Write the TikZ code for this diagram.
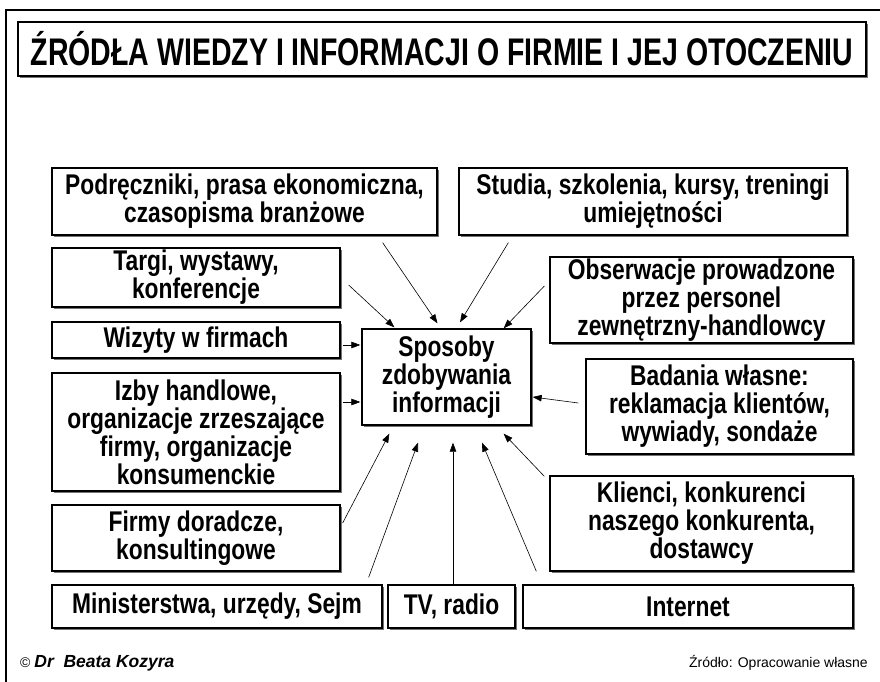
\documentclass[tikz,border=0pt]{standalone}
\usepackage{fontspec}
\setmainfont{Liberation Sans}[FakeStretch=0.8]
\newfontfamily\titlefont{Liberation Sans}[FakeStretch=0.74]
\newfontfamily\footfont{Liberation Sans}
\usetikzlibrary{arrows.meta,shadows}
\tikzset{
  box/.style={draw, line width=1.3pt, fill=white, align=center, inner sep=0pt,
              font=\bfseries\fontsize{28.5}{28}\selectfont,
              drop shadow={shadow xshift=2.2pt, shadow yshift=-2.2pt, fill=black!55, opacity=1}},
  wh/.style 2 args={minimum width=#1pt, minimum height=#2pt},
  feed/.style={-{Triangle[length=9pt,width=6.5pt]}, line width=0.6pt},
  foot/.style={font=\footfont\fontsize{14}{16}\selectfont, inner sep=0pt}
}

\begin{document}
\begin{tikzpicture}[x=1pt,y=-1pt]
\useasboundingbox (0,0) rectangle (880,682);
\draw[line width=1.3pt] (6,682) -- (6,10) -- (880,10);
\node[box, wh={848}{54}, font=\titlefont\bfseries\fontsize{38.5}{40}\selectfont] (title) at (442,49) {ŹRÓDŁA WIEDZY I INFORMACJI O FIRMIE I JEJ OTOCZENIU};

\node[box, wh={169}{96}] (cen) at (446.5,377) {Sposoby\\zdobywania\\informacji};

\node[box, wh={385}{67}] (pod) at (244.5,201.5) {Podręczniki, prasa ekonomiczna,\\czasopisma branżowe};
\node[box, wh={388}{67}] (stu) at (653,201.5) {Studia, szkolenia, kursy, treningi\\umiejętności};
\node[box, wh={288}{59}] (targi) at (196,277.5) {Targi, wystawy,\\konferencje};
\node[box, wh={288}{36}] (wiz) at (196,340) {Wizyty w firmach};
\node[box, wh={288}{118}] (izby) at (196,432) {Izby handlowe,\\organizacje zrzeszające\\firmy, organizacje\\konsumenckie};
\node[box, wh={288}{66}] (dor) at (196,538) {Firmy doradcze,\\konsultingowe};
\node[box, wh={330}{43}] (min) at (217,606.5) {Ministerstwa, urzędy, Sejm};
\node[box, wh={127}{43}] (tv) at (451.5,606.5) {TV, radio};
\node[box, wh={330}{43}] (net) at (688,606.5) {Internet};
\node[box, wh={303}{86}] (obs) at (701.5,300) {Obserwacje prowadzone\\przez personel\\zewnętrzny-handlowcy};
\node[box, wh={267}{95}] (bad) at (719.5,406.5) {Badania własne:\\reklamacja klientów,\\wywiady, sondaże};
\node[box, wh={303}{95}] (kli) at (701.5,523.5) {Klienci, konkurenci\\naszego konkurenta,\\dostawcy};

\draw[feed] ([shift={(-55,7)}]pod.south east) -- ([shift={(-9,-5)}]cen.north);
\draw[feed] ([shift={(8,7.5)}]targi.east) -- ([shift={(33,-1)}]cen.north west);
\draw[feed] ([shift={(50,7)}]stu.south west) -- ([shift={(13.5,-6)}]cen.north);
\draw[feed] ([shift={(-5,-14)}]obs.west) -- ([shift={(-28,0)}]cen.north east);
\draw[feed] ([shift={(2,5)}]wiz.east) -- ([shift={(-1,-32)}]cen.west);
\draw[feed] ([shift={(2,-30)}]izby.east) -- ([shift={(-1,25)}]cen.west);
\draw[feed] ([shift={(-7,-3.5)}]bad.west) -- ([shift={(1,20)}]cen.east);
\draw[feed] ([shift={(2,-15)}]dor.east) -- ([shift={(28,8)}]cen.south west);
\draw[feed] ([shift={(-14,-7)}]min.north east) -- ([shift={(-28.5,17)}]cen.south);
\draw[feed] ([shift={(1.5,0)}]tv.north) -- ([shift={(6.5,17)}]cen.south);
\draw[feed] ([shift={(14,-13)}]net.north west) -- ([shift={(35.5,17)}]cen.south);
\draw[feed] ([shift={(-5,1)}]kli.north west) -- ([shift={(-28,8)}]cen.south east);

\node[foot, anchor=base west] (auth) at (20,667) {© {\fontsize{17.5}{19}\selectfont\textbf{\textit{Dr\ \ Beata Kozyra}}}};
\node[foot, anchor=base east] (src) at (868,667) {Źródło: Opracowanie własne};
\end{tikzpicture}
\end{document}
